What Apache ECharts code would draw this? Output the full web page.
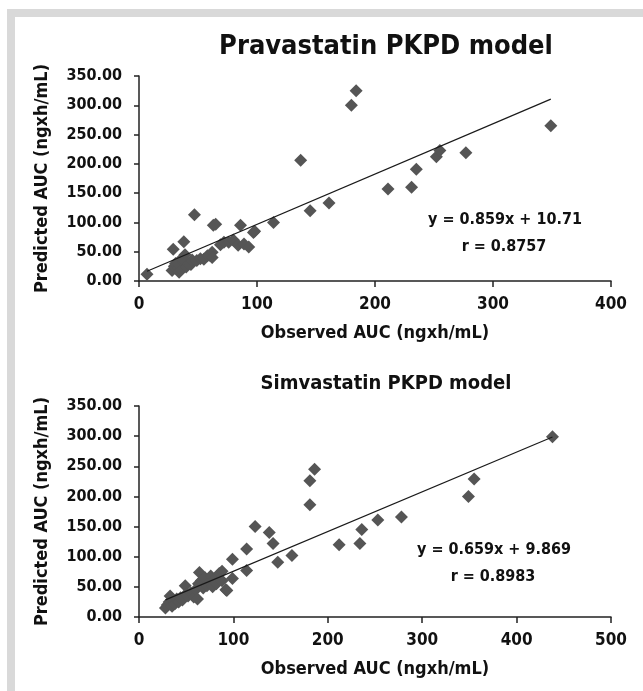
<!DOCTYPE html>
<html>
<head>
<meta charset="utf-8">
<script src="https://cdn.jsdelivr.net/npm/echarts@6/dist/echarts.min.js"></script>
<style>
html, body { margin: 0; padding: 0; background: #fff; }
#chartmain { width: 643px; height: 691px; }
</style>
</head>
<body>
<div id="chartmain"></div>
<script>
// Pravastatin: observed vs predicted AUC (ng x h/mL)
var pravaObserved = [6.8, 28, 30, 31, 33, 34, 35, 36, 38, 40, 42, 44, 45, 39, 36, 29, 38, 47,
    49, 52, 55, 58, 60, 62, 63, 65, 62, 69, 72, 76, 80, 84, 86, 89, 93, 97, 98,
    114, 137, 145, 161, 180, 184, 211, 231, 235, 252, 255, 277, 349];
var pravaPredicted = [11.4, 18, 25, 30, 22, 15, 27, 20, 33, 24, 30, 28, 36, 45, 38, 54, 67, 113,
    35, 38, 37, 43, 44, 49, 95, 97, 40, 62, 66, 66, 70, 61, 95, 63, 58, 83, 85,
    100, 206, 120, 133, 300, 325, 157, 160, 191, 212, 223, 219, 265];

// Simvastatin: observed vs predicted AUC (ng x h/mL)
var simvaObserved = [28, 30, 32, 33, 35, 36, 38, 40, 42, 44, 46, 49, 50, 52, 55, 58, 60, 62,
    63, 64, 66, 68, 70, 72, 74, 76, 78, 80, 82, 85, 88, 88, 92, 93, 99, 99,
    114, 114, 123, 138, 142, 147, 162, 181, 181, 186, 212, 234, 236, 253, 278, 349, 355, 438];
var simvaPredicted = [15, 20, 25, 35, 18, 28, 22, 30, 25, 32, 28, 52, 38, 35, 40, 33, 45, 30,
    55, 74, 60, 48, 65, 52, 58, 68, 50, 62, 55, 72, 76, 60, 45, 44, 96, 64,
    113, 77, 150, 140, 122, 91, 102, 186, 226, 245, 120, 122, 145, 161, 166, 200, 229, 299];

var xTicksTop = [0, 100, 200, 300, 400];
var xTicksBottom = [0, 100, 200, 300, 400, 500];
var yTicks = [0, 50, 100, 150, 200, 250, 300, 350];

// trendline fits as printed on the figure
var pravaFit = { slope: 0.859, intercept: 10.71, r: '0.8757' };
var simvaFit = { slope: 0.659, intercept: 9.869, r: '0.8983' };

var FONT = '"DejaVu Sans Condensed", "DejaVu Sans", sans-serif';
var DOT = '#555555';
var AXIS = '#222222';
var INK = '#111111';

function pairs(xs, ys) {
    var out = [];
    for (var i = 0; i < xs.length; i++) {
        out.push([xs[i], ys[i]]);
    }
    return out;
}

function fitLine(xs, fit) {
    var lo = Math.min.apply(null, xs);
    var hi = Math.max.apply(null, xs);
    return [[lo, fit.slope * lo + fit.intercept], [hi, fit.slope * hi + fit.intercept]];
}

function xAxisFor(ticks, gridIndex) {
    return {
        type: 'value',
        gridIndex: gridIndex,
        min: ticks[0],
        max: ticks[ticks.length - 1],
        interval: ticks[1] - ticks[0],
        name: 'Observed AUC (ngxh/mL)',
        nameLocation: 'middle',
        nameGap: 43,
        nameTextStyle: { fontFamily: FONT, fontWeight: 'bold', fontSize: 18, color: INK },
        axisLine: { onZero: false, lineStyle: { color: AXIS, width: 1.5 } },
        axisTick: { show: true, length: 6, lineStyle: { color: AXIS, width: 1.5 } },
        axisLabel: { margin: 15, fontFamily: FONT, fontWeight: 'bold', fontSize: 17, color: INK },
        splitLine: { show: false }
    };
}

function yAxisFor(gridIndex) {
    return {
        type: 'value',
        gridIndex: gridIndex,
        min: yTicks[0],
        max: yTicks[yTicks.length - 1],
        interval: yTicks[1] - yTicks[0],
        name: 'Predicted AUC (ngxh/mL)',
        nameLocation: 'middle',
        nameGap: 88,
        nameTextStyle: { fontFamily: FONT, fontWeight: 'bold', fontSize: 18, color: INK },
        axisLine: { show: true, onZero: false, lineStyle: { color: AXIS, width: 1.5 } },
        axisTick: { show: true, length: 5, lineStyle: { color: AXIS, width: 1.5 } },
        axisLabel: {
            margin: 17, fontFamily: FONT, fontWeight: 'bold', fontSize: 16, color: INK,
            formatter: function(v) { return v.toFixed(2); }
        },
        splitLine: { show: false }
    };
}

function scatterSeries(xs, ys, idx) {
    return {
        type: 'scatter',
        xAxisIndex: idx,
        yAxisIndex: idx,
        symbol: 'diamond',
        symbolSize: [13, 13],
        itemStyle: { color: DOT, opacity: 1 },
        data: pairs(xs, ys),
        z: 3
    };
}

function trendSeries(xs, fit, idx) {
    return {
        type: 'line',
        xAxisIndex: idx,
        yAxisIndex: idx,
        symbol: 'none',
        silent: true,
        lineStyle: { color: '#1a1a1a', width: 1.2 },
        data: fitLine(xs, fit),
        z: 4
    };
}

function eqText(x, y, str) {
    return {
        type: 'text',
        x: x,
        y: y,
        z: 10,
        style: {
            text: str,
            fontFamily: FONT,
            fontWeight: 'bold',
            fontSize: 16,
            fill: INK,
            align: 'center',
            verticalAlign: 'middle'
        }
    };
}

var option = {
    backgroundColor: '#ffffff',
    animation: false,
    title: [
        {
            text: 'Pravastatin PKPD model',
            left: 381,
            top: 28,
            textAlign: 'center',
            textStyle: { fontFamily: FONT, fontWeight: 'bold', fontSize: 27, color: INK }
        },
        {
            text: 'Simvastatin PKPD model',
            left: 381,
            top: 369,
            textAlign: 'center',
            textStyle: { fontFamily: FONT, fontWeight: 'bold', fontSize: 20, color: INK }
        }
    ],
    grid: [
        { left: 139, top: 76, width: 472, height: 205 },
        { left: 139, top: 406, width: 472, height: 211 }
    ],
    xAxis: [xAxisFor(xTicksTop, 0), xAxisFor(xTicksBottom, 1)],
    yAxis: [yAxisFor(0), yAxisFor(1)],
    series: [
        scatterSeries(pravaObserved, pravaPredicted, 0),
        trendSeries(pravaObserved, pravaFit, 0),
        scatterSeries(simvaObserved, simvaPredicted, 1),
        trendSeries(simvaObserved, simvaFit, 1)
    ],
    graphic: [
        // grey frame around the figure panel
        { type: 'rect', shape: { x: 7, y: 9, width: 636, height: 8 }, style: { fill: '#d9d9d9' }, z: 0 },
        { type: 'rect', shape: { x: 7, y: 9, width: 8, height: 682 }, style: { fill: '#d9d9d9' }, z: 0 },
        eqText(505, 220, 'y = ' + pravaFit.slope + 'x + ' + pravaFit.intercept),
        eqText(504, 247, 'r = ' + pravaFit.r),
        eqText(494, 550, 'y = ' + simvaFit.slope + 'x + ' + simvaFit.intercept),
        eqText(493, 577, 'r = ' + simvaFit.r)
    ]
};

var myChart = echarts.init(document.getElementById('chartmain'));
myChart.setOption(option);
</script>
</body>
</html>
